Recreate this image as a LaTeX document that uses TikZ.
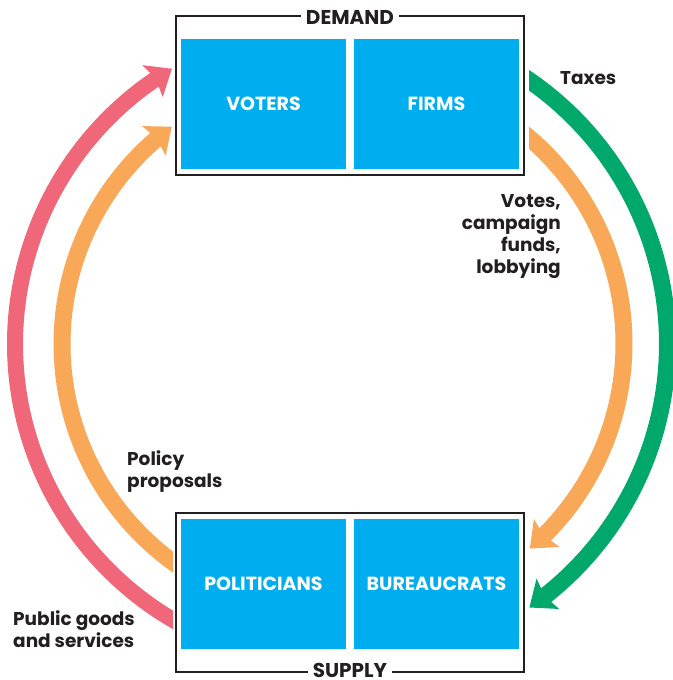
\documentclass[tikz,border=0pt]{standalone}
\usepackage{fontspec}
\setmainfont{Poppins}
\usetikzlibrary{arrows.meta}
\definecolor{cblue}{HTML}{00AEEF}
\definecolor{cred}{HTML}{F0677A}
\definecolor{corange}{HTML}{F9A857}
\definecolor{cgreen}{HTML}{00A96B}
\definecolor{ink}{HTML}{231F20}
% #1 cx, #2 cy, #3 r, #4 start angle, #5 shaft end angle, #6 tip angle, #7 colour, #8 width
\newcommand\myflow[8]{%
  \draw[#7, line width=#8pt] plot[domain=#4:#5, samples=150]
    ({#1+#3*cos(\x)},{#2+#3*sin(\x)});
  \begin{scope}[shift={({#1+#3*cos(#6)},{#2+#3*sin(#6)})}, rotate={-(#6)-88}]
    \fill[#7] (0,0) -- (-23,19) -- (-19,0) -- (-23,-19) -- cycle;
  \end{scope}}
\begin{document}
\begin{tikzpicture}[x=1pt,y=-1pt,
  frame/.style={draw=ink, line width=2pt, inner sep=0pt},
  agent/.style={fill=cblue, draw=none, text=white, inner sep=0pt,
    minimum width=165pt, minimum height=130pt, font=\bfseries\fontsize{19}{22}\selectfont},
  side/.style={fill=white, text=ink, inner xsep=5pt, inner ysep=0pt,
    text height=14pt, text depth=0pt, font=\bfseries\fontsize{20}{22}\selectfont},
  lbl/.style={text=ink, font=\bfseries\fontsize{18.5}{22}\selectfont, inner sep=0pt}
]
\useasboundingbox (0,0) rectangle (672,680);
\fill[white] (0,0) rectangle (672,680);

% frames
\node[frame, minimum width=348pt, minimum height=159pt] (demandbox) at (350,95.5) {};
\node[frame, minimum width=348pt, minimum height=159pt] (supplybox) at (350,592.5) {};
\node[side] (demand) at (350,17.5) {DEMAND};
\node[side] (supply) at (350,670) {SUPPLY};

% agents
\node[agent] (voters) at (263.5,104) {VOTERS};
\node[agent] (firms) at (436.5,104) {FIRMS};
\node[agent] (politicians) at (263.5,583.5) {POLITICIANS};
\node[agent] (bureaucrats) at (436.5,583.5) {BUREAUCRATS};

% left flows
\begin{scope}
\clip (0,0) rectangle (173,680);
\myflow{335}{344}{320}{114}{236.45}{239.35}{cred}{16}
\myflow{332}{344}{270}{120}{230.2}{233.6}{corange}{17}
\end{scope}

% right flows
\begin{scope}
\clip (529,0) rectangle (680,680);
\myflow{353.5}{343.5}{270.5}{-56}{45.9}{49.3}{corange}{17}
\myflow{347}{344}{320.5}{-61}{52.4}{55.3}{cgreen}{17}
\end{scope}

% labels
\node[lbl, anchor=west] (taxes) at (560,78) {Taxes};
\node[lbl, anchor=east, align=right] (votes) at (561,237) {Votes,\\campaign\\funds,\\lobbying};
\node[lbl, anchor=west, align=left] (policy) at (127,472) {Policy\\proposals};
\node[lbl, anchor=west, align=left] (public) at (13,629) {Public goods\\and services};
\end{tikzpicture}
\end{document}
